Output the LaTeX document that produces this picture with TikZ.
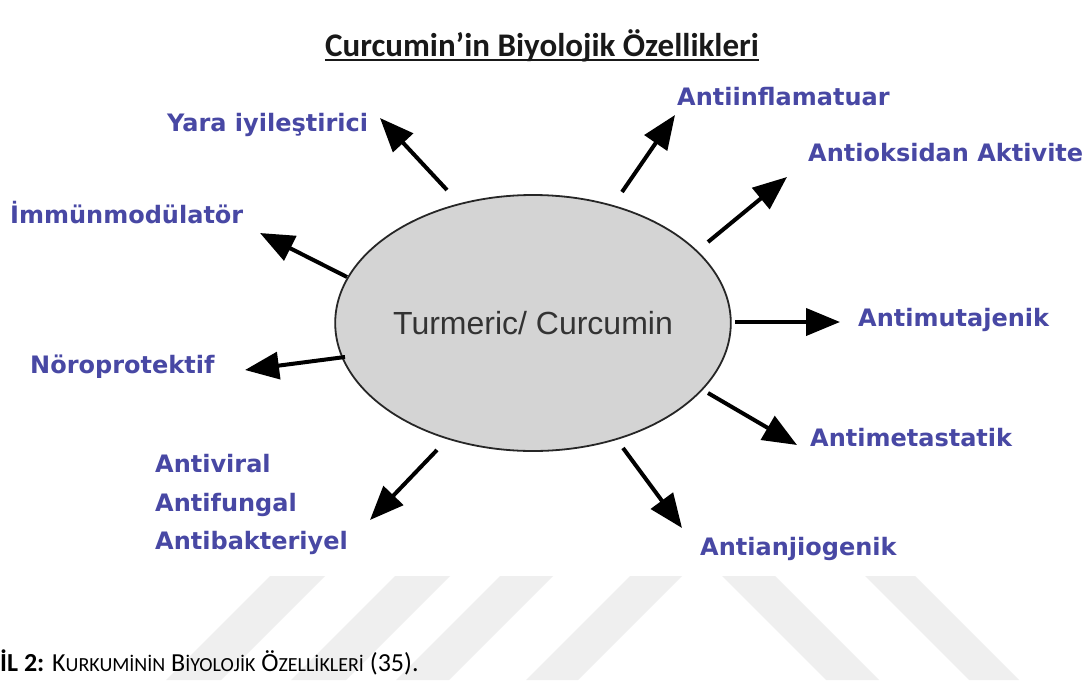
\documentclass[tikz,border=0pt]{standalone}
\usepackage{fontspec}
\setmainfont{Carlito}
\newfontfamily\lblfont{DejaVu Sans}
\newfontfamily\arialfont{Liberation Sans}
\usetikzlibrary{shapes.geometric,arrows.meta}
\definecolor{lbl}{RGB}{72,72,164}
\definecolor{wm}{RGB}{239,239,239}
\definecolor{ellfill}{RGB}{212,212,212}
\newcommand\capsmall{\fontsize{20}{24}\selectfont}
\begin{document}
\begin{tikzpicture}[x=1pt,y=-1pt,
  lab/.style={font=\lblfont\bfseries\fontsize{24}{29}\selectfont, text=lbl, inner sep=0pt, anchor=base west},
  arr/.style={line width=4pt, -{Triangle[length=34pt,width=27pt]}}]
\useasboundingbox (0,0) rectangle (1092,680);
\fill[white] (0,0) rectangle (1092,680);
% watermark bands
\foreach \a/\b in {270/325,395/450,500/553,630/682}
  \fill[wm] (\a,576) -- (\b,576) -- (\b-104,680) -- (\a-104,680) -- cycle;
\foreach \a/\b in {722/775,865/915}
  \fill[wm] (\a,576) -- (\b,576) -- (\b+104,680) -- (\a+104,680) -- cycle;
% title
\node[font=\bfseries\fontsize{33}{40}\selectfont, text=black!90, inner sep=0pt, anchor=base] (title) at (542,56) {Curcumin'in Biyolojik Özellikleri};
\draw[line width=2pt, black!90] ([yshift=-4pt]title.base west) -- ([yshift=-4pt]title.base east);
% centre
\node[ellipse, draw=black!85, line width=1.8pt, fill=ellfill, minimum width=370pt, minimum height=256pt, inner sep=0pt, font=\arialfont\fontsize{32}{38}\selectfont, text=black!80] (c) at (533,323) {Turmeric/ Curcumin};
% labels
\node[lab] (yara) at (167,131) {Yara iyileştirici};
\node[lab] (infl) at (677,105) {Antiinflamatuar};
\node[lab] (oks) at (808,161) {Antioksidan Aktivite};
\node[lab] (imm) at (10,223) {İmmünmodülatör};
\node[lab] (noro) at (30,373) {Nöroprotektif};
\node[lab] (mut) at (858,326) {Antimutajenik};
\node[lab] (meta) at (810,446) {Antimetastatik};
\node[lab] (av1) at (155,472) {Antiviral};
\node[lab] (av2) at (155,511) {Antifungal};
\node[lab] (av3) at (155,549) {Antibakteriyel};
\node[lab] (anj) at (700,555) {Antianjiogenik};
% arrow ends
\coordinate (t1) at (447,190); \coordinate (h1) at (380,118);
\coordinate (t2) at (622,192); \coordinate (h2) at (675,115);
\coordinate (t3) at (708,242); \coordinate (h3) at (787,177);
\coordinate (t4) at (347,277); \coordinate (h4) at (260,233);
\coordinate (t5) at (735,322); \coordinate (h5) at (840,322);
\coordinate (t6) at (345,357); \coordinate (h6) at (245,370);
\coordinate (t7) at (708,393); \coordinate (h7) at (797,445);
\coordinate (t8) at (437,450); \coordinate (h8) at (370,520);
\coordinate (t9) at (623,448); \coordinate (h9) at (682,528);
\foreach \i in {1,...,9} \draw[arr] (t\i) -- (h\i);
% caption
\node[anchor=base west, inner sep=0pt, font=\fontsize{26}{30}\selectfont] (cap) at (0,671) {\textbf{İL 2:} K{\capsmall URKUMİNİN} B{\capsmall İYOLOJİK} Ö{\capsmall ZELLİKLERİ} (35).};
\end{tikzpicture}
\end{document}
